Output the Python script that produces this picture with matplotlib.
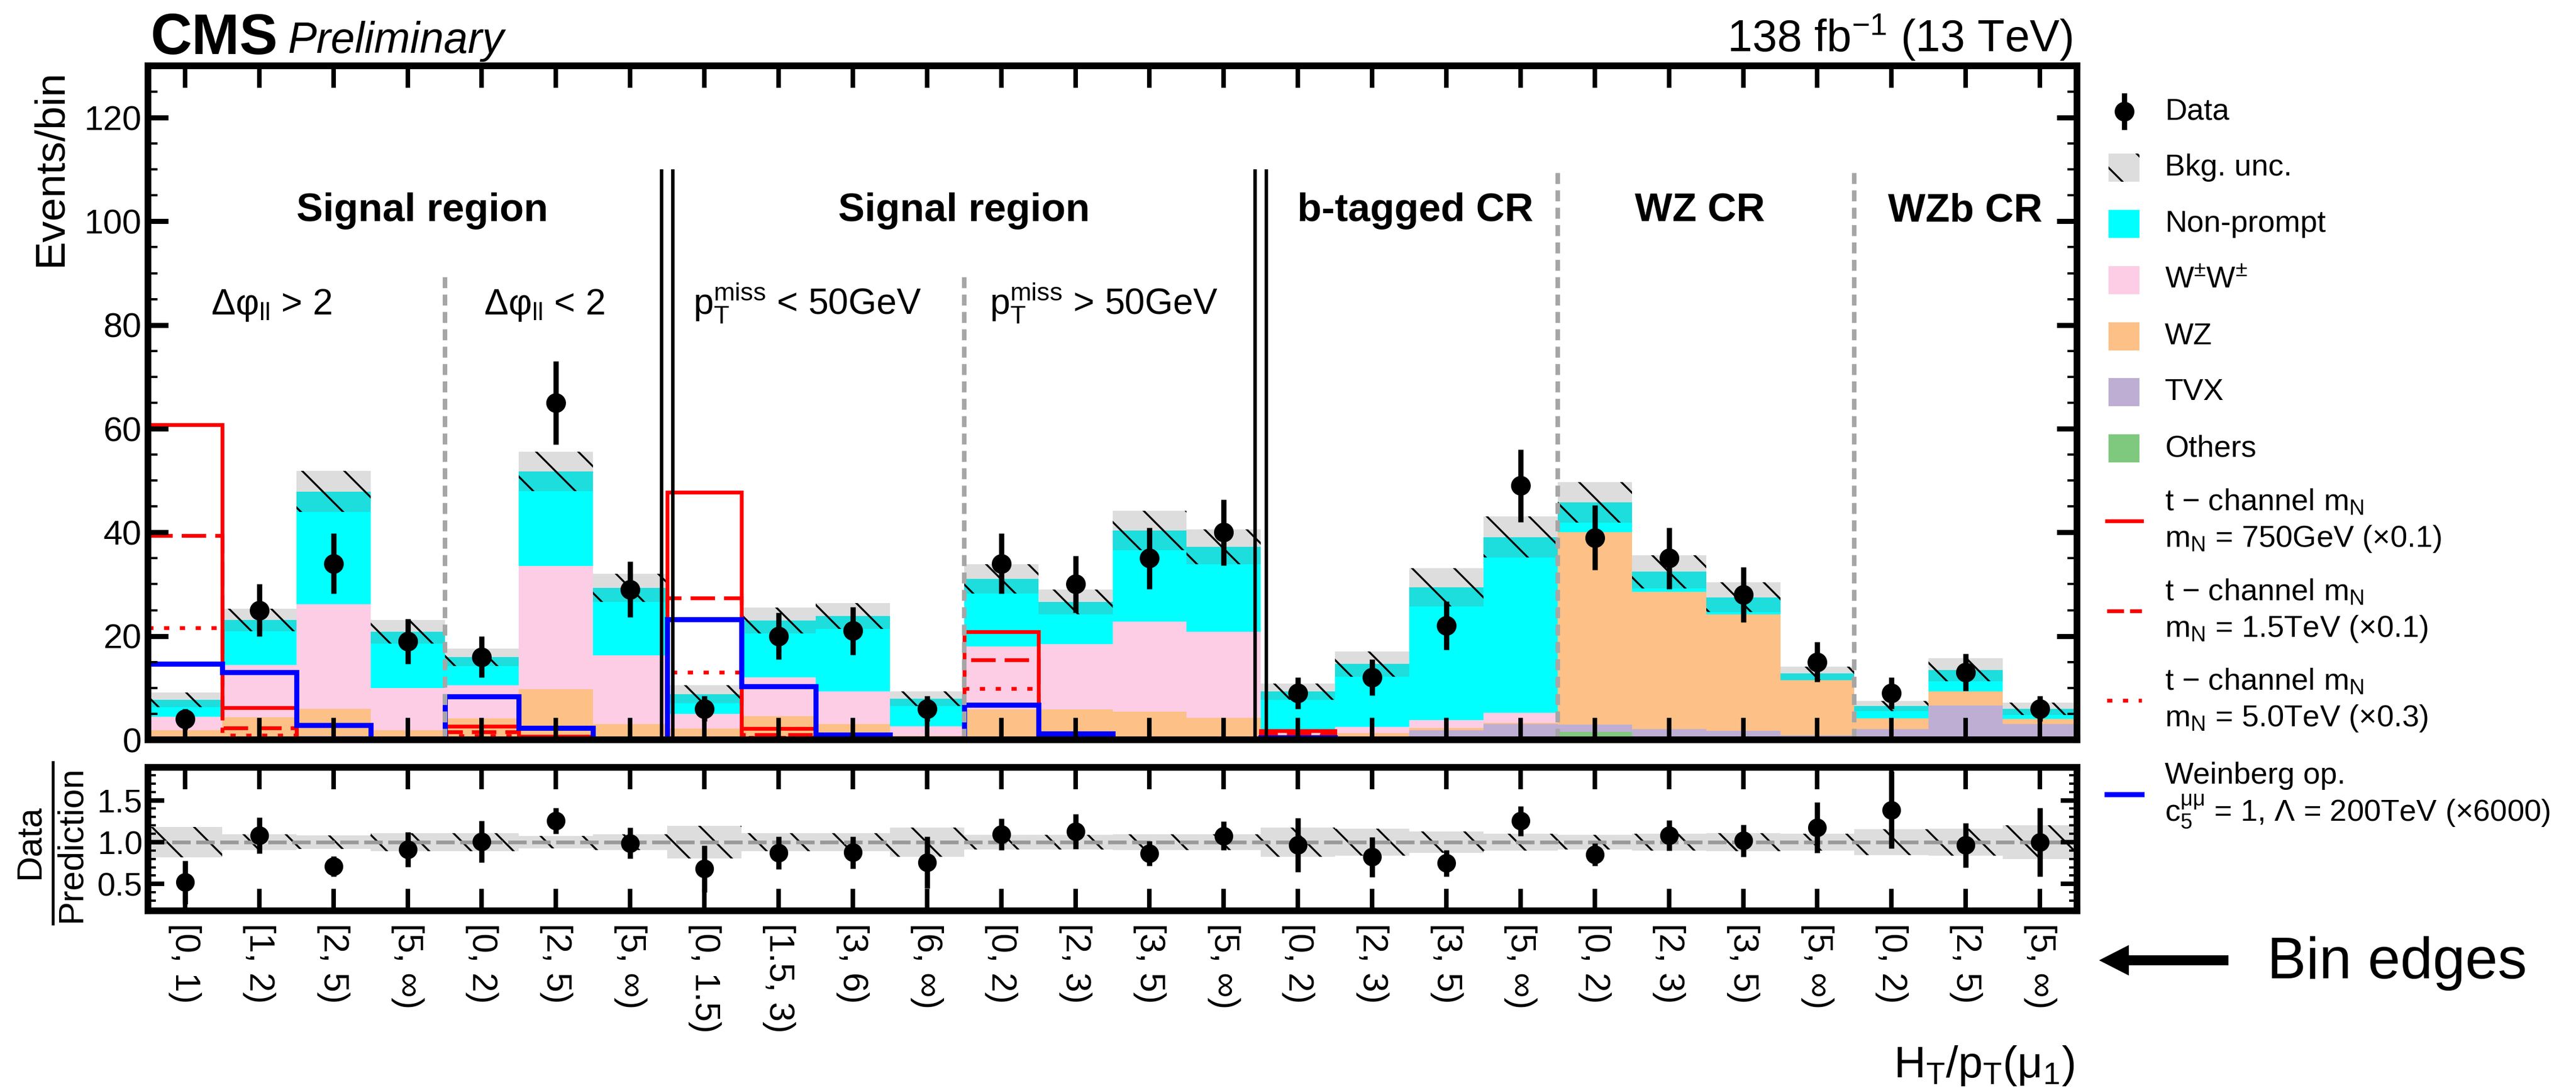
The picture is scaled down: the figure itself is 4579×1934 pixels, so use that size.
import numpy as np
import matplotlib
matplotlib.use("Agg")
import matplotlib.pyplot as plt
from matplotlib.ticker import MultipleLocator, FixedLocator, FormatStrFormatter
from matplotlib.patches import Rectangle, FancyArrow

W, H = 4579, 1934
DPI = 450

plt.rcParams.update({
    "font.family": ["Liberation Sans", "DejaVu Sans"],
    "mathtext.fontset": "custom",
    "mathtext.rm": "Liberation Sans",
    "mathtext.it": "Liberation Sans:italic",
    "mathtext.bf": "Liberation Sans:bold",
    "mathtext.sf": "Liberation Sans",
    "mathtext.default": "regular",
    "hatch.linewidth": 0.55,
    "hatch.color": "black",
})

# ---------------------------------------------------------------- data
bin_labels = ["[0, 1)", "[1, 2)", "[2, 5)", "[5, ∞)", "[0, 2)", "[2, 5)", "[5, ∞)",
              "[0, 1.5)", "[1.5, 3)", "[3, 6)", "[6, ∞)", "[0, 2)", "[2, 3)", "[3, 5)", "[5, ∞)",
              "[0, 2)", "[2, 3)", "[3, 5)", "[5, ∞)",
              "[0, 2)", "[2, 3)", "[3, 5)", "[5, ∞)",
              "[0, 2)", "[2, 5)", "[5, ∞)"]

others = [0.05, 0.1, 0.2, 0.05, 0.1, 0.4, 0.1,
          0.1, 0.1, 0.1, 0.05, 0.1, 0.1, 0.1, 0.1,
          0.1, 0.1, 0.2, 0.2,
          1.5, 0.5, 0.1, 0.0,
          0.0, 0.0, 0.0]
tvx = [0.1, 0.2, 0.6, 0.15, 0.2, 0.6, 0.3,
       0.2, 0.3, 0.3, 0.15, 0.3, 0.3, 0.4, 0.3,
       0.4, 0.5, 1.6, 2.8,
       1.4, 1.6, 1.6, 0.9,
       2.1, 6.6, 3.0]
wz = [1.65, 4.0, 5.2, 1.6, 3.8, 8.8, 2.6,
      1.9, 4.1, 2.6, 0.6, 5.5, 5.5, 4.9, 3.8,
      0.6, 0.7, 0.5, 0.3,
      37.1, 26.4, 22.5, 10.6,
      2.0, 2.7, 1.0]
wpwp = [2.6, 10.1, 20.1, 8.2, 6.4, 23.7, 13.3,
        2.8, 7.5, 6.3, 1.8, 12.1, 12.5, 17.4, 16.6,
        0.9, 1.2, 1.5, 1.9,
        0.0, 0.0, 0.0, 0.0,
        0.0, 0.0, 0.0]
nonprompt = [3.3, 8.7, 21.8, 10.8, 5.4, 18.3, 13.0,
             3.8, 11.0, 14.6, 5.3, 13.0, 8.2, 17.6, 16.4,
             7.3, 12.1, 25.6, 33.9,
             5.8, 3.9, 3.3, 1.3,
             2.4, 4.2, 2.0]
bkg_unc = [1.4, 2.2, 4.0, 2.3, 1.7, 3.8, 2.7,
           1.7, 2.5, 2.5, 1.4, 2.8, 2.4, 3.8, 3.4,
           1.6, 2.4, 3.7, 4.0,
           3.9, 3.2, 2.9, 1.3,
           1.0, 2.2, 1.2]
data = [4, 25, 34, 19, 16, 65, 29,
        6, 20, 21, 6, 34, 30, 35, 40,
        9, 12, 22, 49,
        39, 35, 28, 15,
        9, 13, 6]

sig_750 = [60.8, 6.2, 0, 0, 2.6, 0.6, 0,
           47.7, 2.2, 0, 0, 20.8, 0, 0, 0,
           1.7, 0, 0, 0, 0, 0, 0, 0, 0, 0, 0]
sig_1500 = [39.4, 2.3, 0, 0, 1.5, 0.3, 0,
            27.3, 1.0, 0, 0, 15.4, 0, 0, 0,
            1.2, 0, 0, 0, 0, 0, 0, 0, 0, 0, 0]
sig_5000 = [21.6, 0.9, 0, 0, 0.8, 0.2, 0,
            13.0, 0.4, 0, 0, 9.9, 0, 0, 0,
            0.8, 0, 0, 0, 0, 0, 0, 0, 0, 0, 0]
sig_weinberg = [14.6, 13.0, 2.8, 0, 8.4, 2.3, 0,
                23.2, 10.3, 1.0, 0.2, 6.7, 1.2, 0.1, 0,
                0.4, 0, 0, 0, 0, 0, 0, 0, 0, 0, 0]

# ---------------------------------------------------------------- styles
C_OTHERS = "#7fc97f"
C_TVX = "#beaed4"
C_WZ = "#fdc086"
C_WW = "#fccde5"
C_NP = "#00ffff"
C_BAND = (0.482, 0.482, 0.482, 0.25)
C_SEP = "#a6a6a6"

n = len(data)
edges = np.arange(n + 1)
centers = np.arange(n) + 0.5
data = np.array(data, dtype=float)

fig = plt.figure(figsize=((W + 0.1) / DPI, (H + 0.1) / DPI), dpi=DPI)
L, R = 263, 3692
ax = fig.add_axes([L / W, 1 - 1315 / H, (R - L) / W, (1315 - 117) / H])
rax = fig.add_axes([L / W, 1 - 1619 / H, (R - L) / W, (1619 - 1364) / H])

# ---------------------------------------------------------------- main panel
bottom = np.zeros(n)
for vals, col in [(others, C_OTHERS), (tvx, C_TVX), (wz, C_WZ), (wpwp, C_WW), (nonprompt, C_NP)]:
    top = bottom + np.array(vals)
    ax.stairs(top, edges, baseline=bottom.copy(), fill=True, facecolor=col,
              edgecolor="none", linewidth=0, zorder=1)
    bottom = top
total = bottom
unc = np.array(bkg_unc)

ax.stairs(total + unc, edges, baseline=total - unc, fill=True, facecolor=C_BAND,
          edgecolor="black", linewidth=0, hatch="\\\\", zorder=2)

ax.stairs(sig_750, edges, baseline=None, color="#ff0000", lw=1.07, zorder=2.3)
ax.stairs(sig_1500, edges, baseline=None, color="#ff0000", lw=1.07,
          linestyle=(0, (6.5, 2.4)), zorder=2.3)
ax.stairs(sig_5000, edges, baseline=None, color="#ff0000", lw=1.07,
          linestyle=(0, (1.4, 2.8)), zorder=2.3)
ax.stairs(sig_weinberg, edges, baseline=None, color="#0000ff", lw=1.45, zorder=2.35)

# region separators
ax.vlines([7 - 0.075, 7 + 0.075, 15 - 0.075, 15 + 0.075], 0, 110, colors="black", lw=1.0, zorder=2.6)
ax.vlines([4, 11], 0, 90, colors=C_SEP, lw=1.3, linestyles=(0, (2.4, 1.4)), zorder=2.4)
ax.vlines([19, 23], 0, 110, colors=C_SEP, lw=1.3, linestyles=(0, (2.4, 1.4)), zorder=2.4)

ax.errorbar(centers, data, yerr=np.sqrt(data), fmt="o", color="black", ms=4.6,
            elinewidth=1.5, capsize=0, zorder=5)

ax.set_xlim(0, n)
ax.set_ylim(0, 130)

title_kw = dict(ha="center", va="baseline", fontsize=11.3, fontweight="bold")
ax.text(3.7, 100, "Signal region", **title_kw)
ax.text(11.0, 100, "Signal region", **title_kw)
ax.text(17.08, 100, "b-tagged CR", **title_kw)
ax.text(20.92, 100, "WZ CR", **title_kw)
ax.text(24.49, 100, "WZb CR", **title_kw)

sub_kw = dict(ha="left", va="baseline", fontsize=10.3)
ax.text(0.85, 82, "Δφ$_{ll}$ > 2", **sub_kw)
ax.text(4.53, 82, "Δφ$_{ll}$ < 2", **sub_kw)
ax.text(7.35, 82, "p$_T^{miss}$ < 50GeV", **sub_kw)
ax.text(11.34, 82, "p$_T^{miss}$ > 50GeV", **sub_kw)

# ---------------------------------------------------------------- ratio panel
ratio = data / total
ratio_err = np.sqrt(data) / total
rel = unc / total
rax.stairs(1 + rel, edges, baseline=1 - rel, fill=True, facecolor=C_BAND,
           edgecolor="black", linewidth=0, hatch="\\\\", zorder=2)
rax.axhline(1.0, color="#999999", lw=1.05, linestyle=(0, (5, 1.5)), zorder=2.2)
rax.errorbar(centers, ratio, yerr=ratio_err, fmt="o", color="black", ms=4.3,
             elinewidth=1.5, capsize=0, zorder=5)
rax.set_xlim(0, n)
rax.set_ylim(0.18, 1.894)

# ---------------------------------------------------------------- axes styling
for a in (ax, rax):
    a.set_axisbelow(False)
    for s in a.spines.values():
        s.set_linewidth(1.9)
    a.xaxis.set_major_locator(FixedLocator(centers))
    a.tick_params(axis="x", which="major", direction="in", top=True, bottom=True,
                  length=6.3, width=1.3)
    a.tick_params(axis="x", which="minor", bottom=False, top=False)
    a.tick_params(axis="y", which="both", direction="in", left=True, right=True)

ax.yaxis.set_major_locator(MultipleLocator(20))
ax.yaxis.set_minor_locator(MultipleLocator(5))
ax.tick_params(axis="y", which="major", length=5.8, width=1.45, labelsize=9.8, pad=1.8)
ax.tick_params(axis="y", which="minor", length=2.7, width=0.65)
ax.tick_params(axis="x", labelbottom=False)

rax.yaxis.set_major_locator(FixedLocator([0.5, 1.0, 1.5]))
rax.yaxis.set_minor_locator(MultipleLocator(0.1))
rax.yaxis.set_major_formatter(FormatStrFormatter("%.1f"))
rax.tick_params(axis="y", which="major", length=4.6, width=1.3, labelsize=9.3, pad=1.5)
rax.tick_params(axis="y", which="minor", length=2.3, width=0.65)
rax.set_xticks(centers, bin_labels, rotation=-90, ha="center", va="top", fontsize=10)
rax.tick_params(axis="x", which="major", pad=3.5)

# ---------------------------------------------------------------- annotations (pixel overlay)
ov = fig.add_axes([0, 0, 1, 1])
ov.set_xlim(0, W)
ov.set_ylim(H, 0)
ov.axis("off")

ov.text(268, 96, "CMS", fontsize=16.3, fontweight="bold", ha="left", va="baseline")
ov.text(512, 94, "Preliminary", fontsize=12.3, fontstyle="italic", ha="left", va="baseline")
ov.text(3684, 92, "138 fb$^{-1}$ (13 TeV)", fontsize=12.7, ha="right", va="baseline")

ov.text(90, 123, "Events/bin", rotation=90, ha="center", va="top", fontsize=12)
ov.text(53, 1496, "Data", rotation=90, ha="center", va="center", fontsize=10)
ov.text(127, 1500, "Prediction", rotation=90, ha="center", va="center", fontsize=10)
ov.plot([94, 94], [1355, 1642], color="black", lw=0.8)

ov.text(3687, 1915, "H$_T$/p$_T$(μ$_1$)", ha="right", va="baseline", fontsize=12.5)
ov.text(4030, 1712, "Bin edges", ha="left", va="center", fontsize=16.6)
ov.add_patch(FancyArrow(3958, 1707, 3738 - 3958, 0, width=11.5, head_width=44,
                        head_length=43, length_includes_head=True, color="black"))

# legend
SX0, SX1 = 3748, 3803
TX = 3848
LEG_FS = 8.7
MX = 3776

ov.plot([MX, MX], [170, 226], color="black", lw=1.5)
ov.plot([MX], [198], "o", color="black", ms=4.6)
ov.text(TX, 198, "Data", fontsize=LEG_FS, va="center", ha="left")

ov.add_patch(Rectangle((SX0, 273), SX1 - SX0, 50, facecolor=C_BAND, edgecolor="black",
                       linewidth=0, hatch="\\\\"))
ov.text(TX, 298, "Bkg. unc.", fontsize=LEG_FS, va="center", ha="left")

for yc, col, lab in [(398, C_NP, "Non-prompt"), (498, C_WW, "W$^{\\pm}$W$^{\\pm}$"),
                     (598, C_WZ, "WZ"), (697, C_TVX, "TVX"), (797, C_OTHERS, "Others")]:
    ov.add_patch(Rectangle((SX0, yc - 25), SX1 - SX0, 50, facecolor=col, edgecolor="none"))
    ov.text(TX, yc, lab, fontsize=LEG_FS, va="center", ha="left")

line_entries = [
    (926, "#ff0000", 1.07, "-", "t − channel m$_N$", "m$_N$ = 750GeV (×0.1)"),
    (1086, "#ff0000", 1.07, (0, (4.5, 1.6)), "t − channel m$_N$", "m$_N$ = 1.5TeV (×0.1)"),
    (1245, "#ff0000", 1.07, (0, (1.4, 2.8)), "t − channel m$_N$", "m$_N$ = 5.0TeV (×0.3)"),
    (1412, "#0000ff", 1.45, "-", "Weinberg op.", "c$_5^{μμ}$ = 1, Λ = 200TeV (×6000)"),
]
for yc, col, lw, ls, l1, l2 in line_entries:
    ov.plot([3745, 3807], [yc, yc], color=col, lw=lw, linestyle=ls)
    ov.text(TX, yc - 33, l1, fontsize=LEG_FS, va="center", ha="left")
    ov.text(TX, yc + 32, l2, fontsize=LEG_FS, va="center", ha="left")

fig.savefig("out.png", dpi=DPI)
